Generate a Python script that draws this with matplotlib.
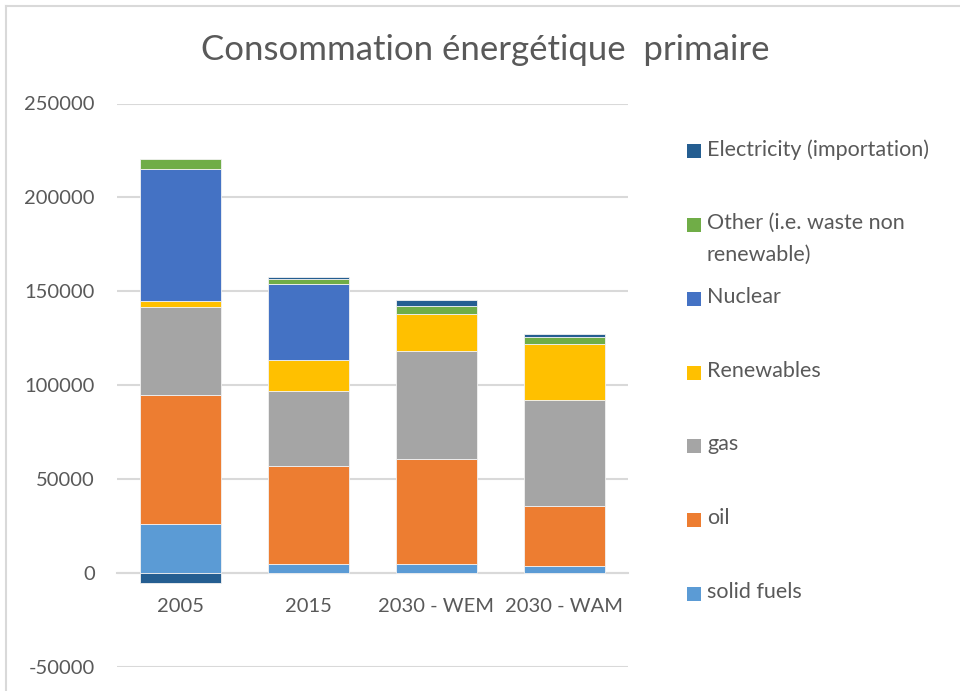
import matplotlib
matplotlib.use("Agg")
import matplotlib.pyplot as plt
from matplotlib.patches import Rectangle
from matplotlib.lines import Line2D
import numpy as np

categories = ["2005", "2015", "2030 - WEM", "2030 - WAM"]
solid_fuels = [26000, 4800, 4800, 3700]
oil = [68800, 52100, 56100, 31800]
gas = [47000, 40300, 57600, 56550]
renewables = [3200, 16200, 19200, 29850]
nuclear = [70000, 40300, 0, 0]
other = [5300, 3000, 4250, 4050]
electricity = [-5500, 1100, 3200, 1100]

series_names = ["solid fuels", "oil", "gas", "Renewables", "Nuclear",
                "Other (i.e. waste non\nrenewable)", "Electricity (importation)"]
series_values = [solid_fuels, oil, gas, renewables, nuclear, other, electricity]
colors = ["#5B9BD5", "#ED7D31", "#A5A5A5", "#FFC000", "#4472C4", "#70AD47", "#255E91"]

yticks = [-50000, 0, 50000, 100000, 150000, 200000, 250000]
title = "Consommation énergétique  primaire"

W, H = 960, 691
fig = plt.figure(figsize=(W / 100, H / 100), dpi=100)
font = "Lato"
txtcol = "#595959"
grid = "#D9D9D9"

ax = fig.add_axes([117 / W, 1 - 667 / H, (628 - 117) / W, (667 - 103.5) / H])
for s in ["left", "right", "top"]:
    ax.spines[s].set_visible(False)
ax.spines["bottom"].set_position(("data", 0))
ax.spines["bottom"].set_color(grid)
ax.spines["bottom"].set_linewidth(1.5)
ax.spines["bottom"].set_zorder(2)

x = np.arange(len(categories))
pos_bottom = np.zeros(len(categories))
neg_bottom = np.zeros(len(categories))
for vals, col, name in zip(series_values, colors, series_names):
    v = np.array(vals, dtype=float)
    b = np.where(v >= 0, pos_bottom, neg_bottom)
    ax.bar(x, v, bottom=b, width=0.634, color=col, edgecolor="#F2F2F2",
           linewidth=0.6, zorder=3)
    pos_bottom = pos_bottom + np.where(v >= 0, v, 0)
    neg_bottom = neg_bottom + np.where(v < 0, v, 0)

ax.set_xlim(-0.5, len(categories) - 0.5)
ax.set_ylim(-50000, 250000)
ax.set_yticks(yticks)
ax.set_yticklabels([str(t) for t in yticks])
ax.set_xticks(x)
ax.set_xticklabels(categories)
ax.tick_params(axis="both", length=0, labelsize=14.5, labelcolor=txtcol)
ax.tick_params(axis="y", pad=16)
ax.tick_params(axis="x", pad=18)
for lab in ax.get_xticklabels() + ax.get_yticklabels():
    lab.set_family(font)
ax.yaxis.grid(True, color=grid, linewidth=1.5, zorder=0)
ax.set_axisbelow(True)

fig.text(485 / W, 1 - 50 / H, title, ha="center", va="center",
         fontsize=25, color=txtcol, family=font)

# legend
leg_y = [151, 225, 299, 372.7, 446, 520, 594]
leg_order = list(range(len(series_names)))[::-1]
for yy, idx in zip(leg_y, leg_order):
    fig.add_artist(Rectangle((687 / W, 1 - (yy + 7) / H), 14 / W, 14 / H,
                             transform=fig.transFigure, color=colors[idx], lw=0))
    fig.text(707 / W, 1 - (yy - 12) / H, series_names[idx], ha="left", va="top",
             fontsize=15.5, color=txtcol, family=font, linespacing=1.75)

# chart border
fig.add_artist(Line2D([6 / W, 1], [1 - 6 / H, 1 - 6 / H], color=grid, lw=1.5,
                      transform=fig.transFigure))
fig.add_artist(Line2D([6 / W, 6 / W], [0, 1 - 6 / H], color=grid, lw=1.5,
                      transform=fig.transFigure))

fig.savefig("out.png", dpi=100, facecolor="white")
